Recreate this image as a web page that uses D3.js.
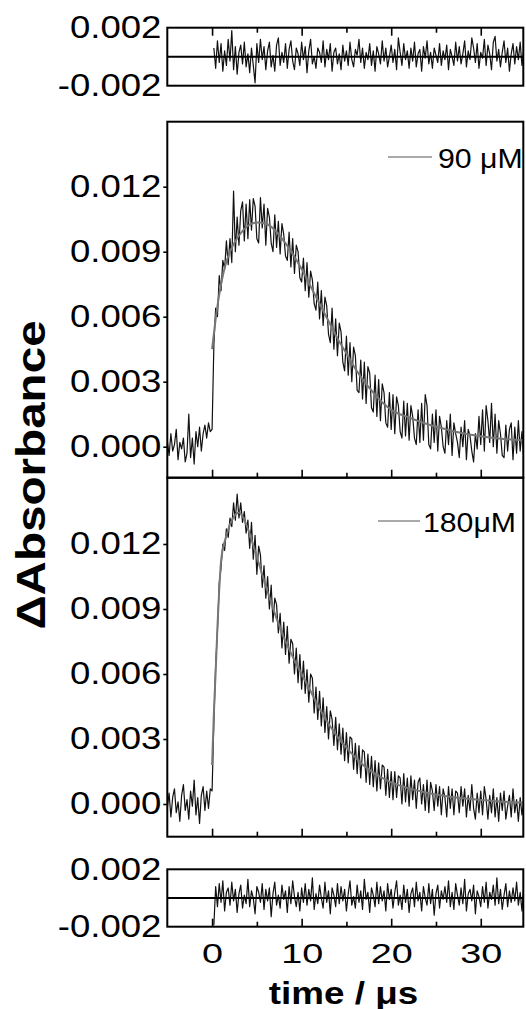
<!DOCTYPE html>
<html><head><meta charset="utf-8">
<script src="https://cdn.jsdelivr.net/npm/d3@7"></script>
<style>body{margin:0;background:#fff}</style>
</head><body><svg id="c" width="526" height="1009"></svg>
<script>
// ---------------- DATA (absorbance values in units of 1e-5) ----------------
const UNIT = 1e-5;
const SAMPLE_START = -5;     // µs, first sample of the main traces
const SAMPLE_STEP = 0.2;     // µs between samples
const RESID_START = 0.2;     // µs, first residual sample

// 90 µM transient (measured trace)
const trace90 = [
  30,-40,60,-20,10,80,-60,20,-10,40,-70,-30,150,-50,40,-80,70,0,90,-20,60,100,40,110,70,
  80,
  470,640,600,790,720,860,820,950,840,960,
  850,1180,900,1060,930,1090,1130,950,1120,960,
  1140,1000,1145,1110,960,940,1150,1010,1120,930,
  1100,1060,940,900,1070,920,1040,890,1030,980,
  880,860,990,830,960,800,930,900,780,760,
  870,720,850,690,810,770,660,630,760,590,
  720,560,690,650,520,480,640,450,590,420,
  570,530,390,350,510,330,480,300,460,420,
  260,250,400,220,390,200,370,340,180,160,
  330,140,310,120,290,250,110,90,250,80,
  240,60,230,190,70,40,210,50,200,30,
  190,140,40,10,170,20,200,30,240,190,
  10,-10,150,20,170,-20,140,90,0,-30,
  120,10,150,-40,110,60,20,-50,90,0,
  120,-60,80,50,-20,-70,60,-10,140,10,
  170,-20,190,120,20,200,0,150,-30,120,
  60,-40,-50,100,-20,80,110,-60,90,-30,
  120,-20,70,-50,90
];

// 180 µM transient (measured trace)
const trace180 = [
  -20,50,-60,30,70,-40,10,-80,40,90,-30,20,-70,60,-10,110,-50,30,-90,40,80,-30,60,-20,70,
  60,
  380,640,800,1020,1090,1200,1170,1270,1230,1320,
  1280,1390,1310,1430,1320,1390,1300,1350,1250,1310,
  1180,1300,1130,1240,1060,1190,1150,1000,1100,950,
  1050,900,1010,840,950,920,790,880,720,840,
  690,820,650,760,740,600,720,560,690,530,
  660,510,620,470,600,580,420,540,390,520,
  360,490,330,450,300,430,390,270,400,250,
  370,230,350,200,330,190,310,300,160,280,
  140,270,120,250,240,100,230,90,220,80,
  200,60,190,70,180,170,40,160,30,150,
  20,150,30,130,120,0,140,10,120,-10,
  130,20,110,-20,100,120,0,90,-30,110,
  -40,100,60,-30,90,-10,80,-50,70,30,
  -60,80,-20,70,-50,60,50,-40,80,-10,
  70,-60,40,-30,90,-20,-70,50,-40,60,
  -50,80,20,-70,40,-40,70,-60,30,-80,
  50,-30,60,-70,-10,40,-60,70,-40,20,
  -80,30,-50,10,-60
];

// fitted curves (sampled points of the grey fit line)
const fit90Time = [0,0.5,1,1.5,2,3,4,5,6,7,8,9,10,11,12,13,14,15,16,17,18,19,20,22,24,26,28,30,32,35];
const fit90 = [450,620,750,840,900,975,1020,1035,1030,1000,950,890,820,740,660,580,500,430,360,300,250,205,170,135,105,82,62,48,38,30];
const fit180Time = [0,0.2,0.4,0.6,0.8,1,1.5,2,2.5,3,3.5,4,5,6,7,8,9,10,11,12,13,14,15,16,17,18,19,20,22,24,26,28,30,32,35];
const fit180 = [180,420,610,820,990,1120,1225,1290,1330,1345,1320,1270,1140,1005,880,770,680,600,520,440,370,310,260,215,175,145,120,100,72,52,37,26,18,12,5];

// residuals (top panel: 90 µM, bottom panel: 180 µM)
const resid90 = [
  60,-80,110,-40,90,-100,40,-60,120,-30,
  180,-90,70,-120,30,80,-50,100,-70,20,
  -110,60,-60,-180,90,-40,120,-20,70,-90,
  40,100,-70,10,-100,80,130,-60,30,-40,
  90,-80,50,110,-30,-90,60,20,-60,100,
  -20,70,-110,40,120,-50,0,-80,60,30,
  -40,110,-70,50,-20,90,-100,30,60,-50,
  20,-90,80,-30,40,-60,100,-20,-70,50,
  10,120,-40,60,-80,30,-20,90,-60,40,
  -100,70,20,-50,110,-30,60,-70,0,80,
  -40,50,-90,130,30,-60,90,-20,40,-80,
  60,-30,100,-70,20,50,-100,70,-10,110,
  -50,30,-80,60,10,-40,90,-60,40,-20,
  80,-90,50,0,-60,100,-30,70,-50,20,
  110,-70,40,-20,130,60,-40,90,-80,30,
  -10,120,-60,80,20,-90,100,140,-30,50,
  -70,30,110,-40,60,-100,20,90,-50,70,
  -20,100,-60,40,-30
];
const resid180 = [
  -190,80,-60,100,-30,120,-90,40,70,-50,
  110,-20,60,-100,30,90,-70,20,-40,130,
  -60,50,0,-110,80,40,-30,100,-80,60,
  -20,70,-130,30,110,-50,20,-70,90,-10,
  50,-100,80,-40,120,10,-60,40,-90,70,
  -30,100,-50,60,-20,140,-80,30,-40,90,
  0,-70,110,-30,50,-110,70,20,-60,100,
  -40,80,-20,60,-90,30,120,-50,10,-70,
  90,-30,50,-80,130,-10,40,-100,70,20,
  -60,110,-40,80,-20,50,-90,100,-10,60,
  -70,40,120,-50,20,-80,90,-30,60,-100,
  30,70,-60,110,-20,40,-90,80,0,-50,
  100,-40,60,-120,30,90,-70,50,-10,80,
  -30,120,-60,40,-80,100,20,-50,70,-40,
  130,-90,30,60,-20,90,-110,50,10,-60,
  80,-30,110,-70,40,-10,90,-50,140,-40,
  60,-80,20,100,-60,50,-30,70,-20,110,
  -50,40,-90,80,-10
];

const yTicksMain = [0, 0.003, 0.006, 0.009, 0.012];
const yTicksResid = [-0.002, 0.002];
const xTicksMajor = [0, 10, 20, 30];
const xTicksMinor = [5, 15, 25];
const legendLabels = ["90 \u03bcM", "180\u03bcM"];
const xTitle = "time / \u03bcs";
const yTitle = "\u0394Absorbance";

// ---------------- DRAWING ----------------
const FONT = "'Liberation Sans', Arial, Helvetica, sans-serif";
const svg = d3.select("#c");
svg.append("rect").attr("width", 526).attr("height", 1009).attr("fill", "#fff");

const X0 = 167.3, X1 = 523.3;
const x = d3.scaleLinear().domain([-5, 34.75]).range([X0, X1]);

const panels = [
  {id: "r1", top: 27.7,  bottom: 85.7,  dom: [-0.002, 0.002],    kind: "resid"},
  {id: "p1", top: 121.7, bottom: 477.7, dom: [-0.00143, 0.015],  kind: "main"},
  {id: "p2", top: 477.7, bottom: 836.7, dom: [-0.00151, 0.01506], kind: "main"},
  {id: "r2", top: 869.3, bottom: 926.7, dom: [-0.002, 0.002],    kind: "resid"}
];
const defs = svg.append("defs");
panels.forEach(p => {
  p.y = d3.scaleLinear().domain(p.dom).range([p.bottom, p.top]);
  defs.append("clipPath").attr("id", "clip-" + p.id).append("rect")
    .attr("x", X0).attr("y", p.top).attr("width", X1 - X0).attr("height", p.bottom - p.top);
});

const series = (arr, start) => arr.map((v, i) => ({t: start + i * SAMPLE_STEP, v: v * UNIT}));
const pairs = (ts, vs) => ts.map((t, i) => ({t, v: vs[i] * UNIT}));

function drawTrace(p, data, color, width, curve) {
  const line = d3.line().x(d => x(d.t)).y(d => p.y(d.v)).curve(curve || d3.curveLinear);
  svg.append("g").attr("clip-path", "url(#clip-" + p.id + ")")
    .append("path").datum(data)
    .attr("d", line).attr("fill", "none").attr("stroke", color)
    .attr("stroke-width", width).attr("stroke-linejoin", "round");
}

// residual panels
[[panels[0], resid90], [panels[3], resid180]].forEach(([p, r]) => {
  drawTrace(p, series(r, RESID_START), "#111", 1.2);
  svg.append("line").attr("x1", X0).attr("x2", X1)
    .attr("y1", p.y(0)).attr("y2", p.y(0)).attr("stroke", "#000").attr("stroke-width", 2);
});

// main panels
drawTrace(panels[1], series(trace90, SAMPLE_START), "#111", 1.2);
drawTrace(panels[1], pairs(fit90Time, fit90), "#777", 2, d3.curveMonotoneX);
drawTrace(panels[2], series(trace180, SAMPLE_START), "#111", 1.2);
drawTrace(panels[2], pairs(fit180Time, fit180), "#777", 2, d3.curveMonotoneX);

// frames
panels.forEach(p => {
  svg.append("rect").attr("x", X0).attr("y", p.top)
    .attr("width", X1 - X0).attr("height", p.bottom - p.top)
    .attr("fill", "none").attr("stroke", "#000").attr("stroke-width", 2);
});

function styleAxis(g) {
  g.select(".domain").remove();
  g.selectAll(".tick line").attr("stroke", "#000").attr("stroke-width", 1.6);
  g.selectAll("text").attr("fill", "#000").style("font-family", FONT);
}

// y axes
panels.forEach(p => {
  const main = p.kind === "main";
  const ax = d3.axisLeft(p.y)
    .tickValues(main ? yTicksMain : yTicksResid)
    .tickSize(main ? 4 : 0).tickPadding(main ? 1 : 5)
    .tickFormat(d => d.toFixed(3));
  const g = svg.append("g").attr("transform", `translate(${X0},0)`).call(ax);
  styleAxis(g);
  g.selectAll("text").style("font-size", "31px").attr("transform", "scale(1.18,1)");
});

// x ticks (inward)
panels.forEach((p, i) => {
  [[xTicksMajor, 8], [xTicksMinor, 5]].forEach(([vals, len]) => {
    const ax = (i === 0 ? d3.axisBottom(x) : d3.axisTop(x))
      .tickValues(vals).tickSize(len).tickFormat("");
    const g = svg.append("g")
      .attr("transform", `translate(0,${i === 0 ? p.top : p.bottom})`).call(ax);
    styleAxis(g);
  });
});

// x tick labels under the last panel
{
  const p = panels[3];
  const g = svg.append("g").attr("transform", `translate(0,${p.bottom})`)
    .call(d3.axisBottom(x).tickValues(xTicksMajor).tickSize(0).tickPadding(16).tickFormat(d3.format("d")));
  styleAxis(g);
  g.selectAll("text").style("font-size", "28px").attr("transform", "scale(1.35,1)");
}

// legends
[[panels[1], legendLabels[0], 388, 432, 157, 438],
 [panels[2], legendLabels[1], 378, 420, 521, 423]].forEach(([p, lab, lx0, lx1, ly, tx]) => {
  svg.append("line").attr("x1", lx0).attr("x2", lx1).attr("y1", ly).attr("y2", ly)
    .attr("stroke", "#555").attr("stroke-width", 1);
  svg.append("text").attr("transform", `translate(${tx},${ly + 11}) scale(1.08,1)`)
    .style("font-family", FONT).style("font-size", "28px").attr("fill", "#000").text(lab);
});

// axis titles
svg.append("text").attr("transform", "translate(343.5,1004) scale(1.15,1)")
  .attr("text-anchor", "middle").style("font-family", FONT).style("font-size", "32px")
  .style("font-weight", "bold").text(xTitle);
svg.append("text").attr("transform", "translate(45,475) rotate(-90) scale(1.19,1)")
  .attr("text-anchor", "middle").style("font-family", FONT).style("font-size", "40px")
  .style("font-weight", "bold").text(yTitle);
</script>
</body></html>
